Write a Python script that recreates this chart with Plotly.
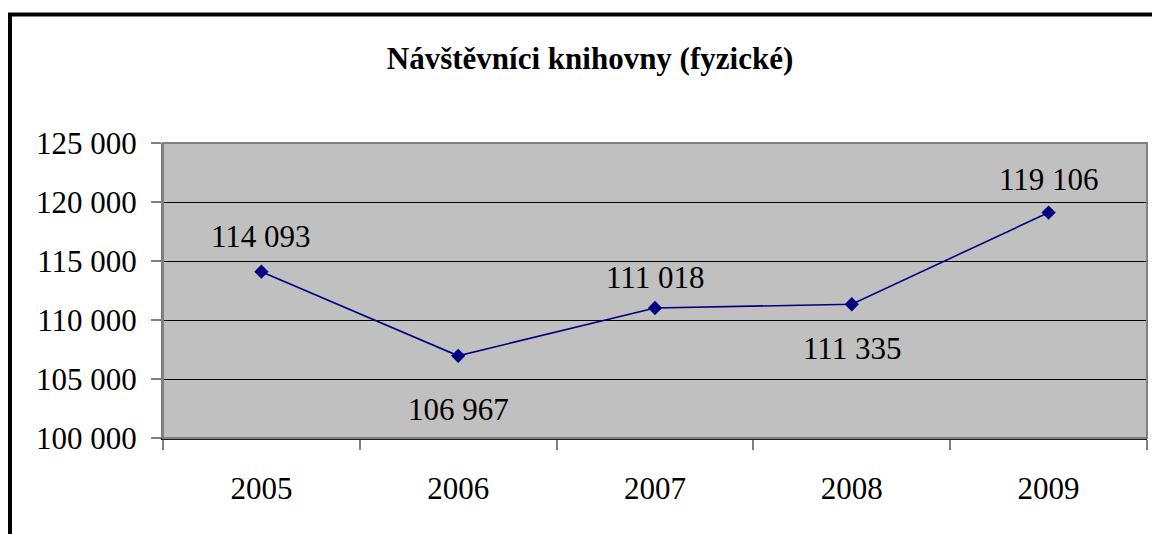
import plotly.graph_objects as go

years = ["2005", "2006", "2007", "2008", "2009"]
visitors = [114093, 106967, 111018, 111335, 119106]
y_ticks = [100000, 105000, 110000, 115000, 120000, 125000]

# label placement (px, positive = above the marker)
label_shift = [35, -54, 30, -44, 33]

SERIF = "Liberation Serif, Times New Roman, serif"
NAVY = "#000080"

# the page body has an 8px margin, so the figure is sized to fit inside it
W, H = 1152, 526


def fmt(v):
    return f"{v:,}".replace(",", " ")


fig = go.Figure(go.Scatter(
    x=years,
    y=visitors,
    mode="lines+markers",
    line=dict(color=NAVY, width=1.6),
    marker=dict(symbol="diamond", size=11, color=NAVY),
    hoverinfo="skip",
))

for i, (v, dy) in enumerate(zip(visitors, label_shift)):
    fig.add_annotation(
        x=i, y=v, xref="x", yref="y", text=fmt(v), showarrow=False,
        yshift=dy, font=dict(family=SERIF, size=31, color="#000000"),
    )

# plot-area border (grey) and outer chart frame (black)
fig.add_shape(type="rect", xref="paper", yref="paper", x0=0, x1=1, y0=0, y1=1,
              line=dict(color="#808080", width=2), layer="above")
fig.add_shape(type="rect", xref="paper", yref="paper",
              x0=-0.1555, x1=1.2, y0=-0.6, y1=1.4356,
              line=dict(color="#000000", width=4), layer="above")

fig.update_layout(
    width=W, height=H,
    margin=dict(l=155, r=13, t=135, b=96),
    paper_bgcolor="#ffffff",
    plot_bgcolor="#c0c0c0",
    showlegend=False,
    font=dict(family=SERIF, size=31, color="#000000"),
    title=dict(
        text="<b>Návštěvníci knihovny (fyzické)</b>",
        x=582 / W, xanchor="center", xref="container",
        y=1 - 50 / H, yanchor="middle", yref="container",
        font=dict(family=SERIF, size=31, color="#000000"),
    ),
    xaxis=dict(
        type="category", tickson="boundaries", showgrid=False,
        ticks="outside", ticklen=10, tickcolor="#808080", tickwidth=2,
        showline=True, linecolor="#202020", linewidth=2,
        ticklabelstandoff=22, range=[-0.5, 4.5],
    ),
    yaxis=dict(
        range=[100000, 125000], tickvals=y_ticks,
        ticktext=[fmt(t) for t in y_ticks],
        showgrid=True, gridcolor="#000000", gridwidth=1,
        ticks="outside", ticklen=10, tickcolor="#808080", tickwidth=2,
        showline=True, linecolor="#808080", linewidth=2,
        ticklabelstandoff=8, zeroline=False,
    ),
)

fig.write_html("out.html")
